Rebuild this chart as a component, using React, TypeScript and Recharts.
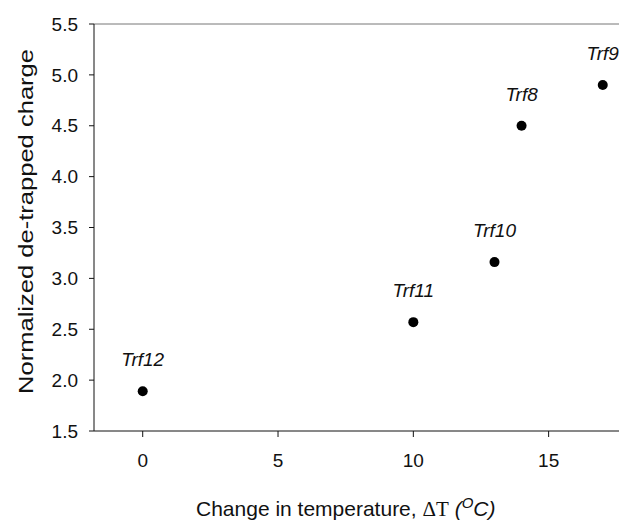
import React from 'react';
import {
  ScatterChart,
  Scatter,
  XAxis,
  YAxis,
  ReferenceLine,
  Label,
} from 'recharts';

const names = ['Trf12', 'Trf11', 'Trf10', 'Trf8', 'Trf9'];
const deltaT = [0, 10, 13, 14, 17];
const detrapped = [1.89, 2.57, 3.16, 4.5, 4.9];

const xTicks = [0, 5, 10, 15];
const yTicks = [1.5, 2.0, 2.5, 3.0, 3.5, 4.0, 4.5, 5.0, 5.5];

const data = names.map((name, i) => ({ name, x: deltaT[i], y: detrapped[i] }));

const FONT = '"Liberation Sans", Arial, sans-serif';

// dot plus italic label above it
const PointShape = (props: any) => {
  const { cx, cy, payload } = props;
  return (
    <g>
      <circle cx={cx} cy={cy} r={5} fill="#000" />
      <text
        x={cx}
        y={cy - 25}
        textAnchor="middle"
        fontFamily={FONT}
        fontStyle="italic"
        fontSize={19}
        fill="#111"
      >
        {payload.name}
      </text>
    </g>
  );
};

export default function App() {
  return (
    <div style={{ position: 'absolute', left: 0, top: 0, background: '#fff' }}>
      <ScatterChart
        width={619}
        height={522}
        margin={{ top: 24, right: 0, bottom: 0, left: 0 }}
      >
        <XAxis
          type="number"
          dataKey="x"
          domain={[-1.8, 17.6]}
          ticks={xTicks}
          allowDataOverflow
          height={91}
          tickSize={6}
          tickMargin={17}
          stroke="#111"
          tick={{ fill: '#111', fontSize: 19, fontFamily: FONT }}
        >
          <Label
            content={() => (
              <text x={196} y={516} fontFamily={FONT} fontSize={21} fill="#111">
                <tspan>Change in temperature, </tspan>
                <tspan fontFamily='"Liberation Serif", "Times New Roman", serif'>ΔT</tspan>
                <tspan fontStyle="italic"> (</tspan>
                <tspan fontStyle="italic" fontSize={15} dy={-8}>O</tspan>
                <tspan fontStyle="italic" dy={8}>C)</tspan>
              </text>
            )}
          />
        </XAxis>
        <YAxis
          type="number"
          dataKey="y"
          domain={[1.5, 5.5]}
          ticks={yTicks}
          width={94}
          tickSize={5}
          tickMargin={11}
          stroke="#111"
          tickFormatter={(v: number) => v.toFixed(1)}
          tick={{ fill: '#111', fontSize: 19, fontFamily: FONT }}
        >
          <Label
            content={(p: any) => {
              const cy = p.viewBox.y + p.viewBox.height / 2 - 6;
              return (
                <text
                  x={33}
                  y={cy}
                  transform={`rotate(-90, 33, ${cy})`}
                  textAnchor="middle"
                  fontFamily={FONT}
                  fontSize={21}
                  textLength={345}
                  lengthAdjust="spacingAndGlyphs"
                  fill="#111"
                >
                  Normalized de-trapped charge
                </text>
              );
            }}
          />
        </YAxis>
        <ReferenceLine y={5.5} stroke="#777" strokeWidth={1} />
        <Scatter data={data} shape={PointShape} isAnimationActive={false} />
      </ScatterChart>
    </div>
  );
}
